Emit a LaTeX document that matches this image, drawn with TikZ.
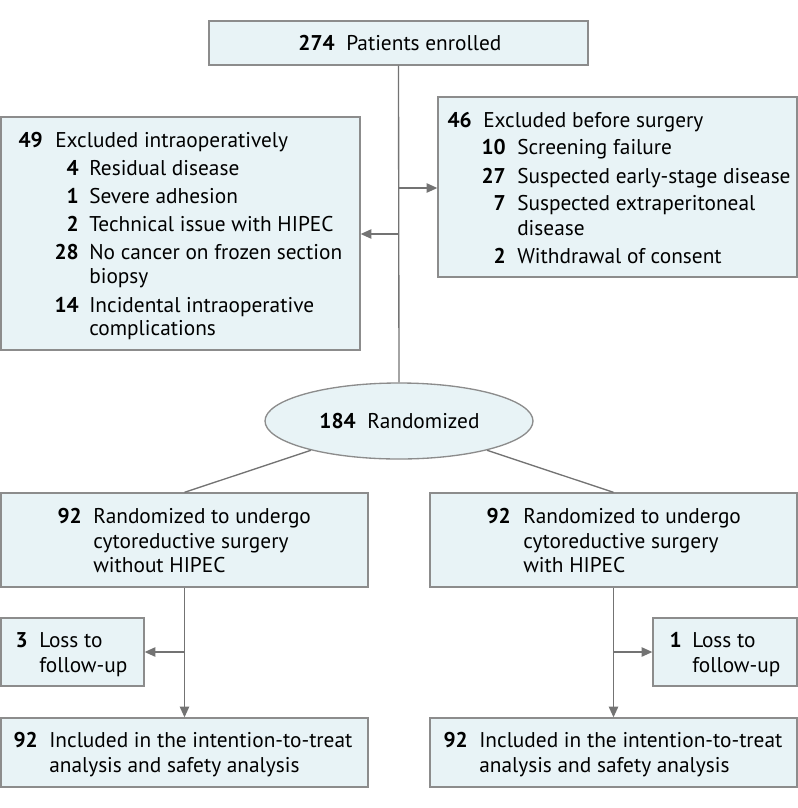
\documentclass[tikz,border=0pt]{standalone}
\usepackage{fontspec}
\setmainfont{PT Sans}
\usetikzlibrary{arrows.meta,shapes.geometric,fit}
\definecolor{boxfill}{RGB}{232,243,246}
\definecolor{boxline}{RGB}{140,140,140}
\definecolor{arrowgray}{RGB}{115,115,115}
\newcounter{lnum}
\newcommand\rowtext[5]{\stepcounter{lnum}\node[numtxt] (n\thelnum) at (#1,#3) {#4};\node[bodytxt] (t\thelnum) at (#2,#3) {#5};}
\newcommand\contline[3]{\stepcounter{lnum}\node[bodytxt] (c\thelnum) at (#1,#2) {#3};}
\begin{document}
\begin{tikzpicture}[x=0.75pt,y=-0.75pt,
  box/.style={draw=boxline,fill=boxfill,line width=1pt,inner sep=0pt},
  numtxt/.style={anchor=base east,inner sep=0pt,font=\fontsize{16}{19}\selectfont\bfseries},
  bodytxt/.style={anchor=base west,inner sep=0pt,font=\fontsize{16}{19}\selectfont},
  conn/.style={draw=arrowgray,line width=1pt},
  arrowconn/.style={conn,-{Triangle[length=8pt,width=7pt]}}]
\useasboundingbox (0,0) rectangle (798,808);

% boxes
\node[box,fit={(209,21)(588,65)}] (enrol) {};
\node[box,fit={(1,117)(360,350)}] (exL) {};
\node[box,fit={(438,97)(797,277)}] (exR) {};
\node[box,ellipse,minimum width=201pt,minimum height=57pt] (rand) at (399,421) {};
\node[box,fit={(1,493)(368,587)}] (armL) {};
\node[box,fit={(430,493)(797,587)}] (armR) {};
\node[box,fit={(1,618)(144,686)}] (lossL) {};
\node[box,fit={(653,618)(797,686)}] (lossR) {};
\node[box,fit={(1,718)(368,787)}] (finL) {};
\node[box,fit={(430,718)(797,787)}] (finR) {};

% connectors
\draw[conn] (enrol.south) -- (rand.north);
\coordinate (bR) at (399,188);
\coordinate (bL) at (399,234);
\draw[arrowconn] (bR) -- (bR -| exR.west);
\draw[arrowconn] (bL) -- (bL -| exL.east);
\draw[conn] (rand) -- (armL.north);
\draw[conn] (rand) -- (armR.north);
\draw[arrowconn] (armL.south) -- (finL.north);
\draw[arrowconn] (armR.south) -- (finR.north);
\coordinate (lL) at (armL.south |- lossL.east);
\coordinate (lR) at (armR.south |- lossR.west);
\draw[arrowconn] (lL) -- (lossL.east);
\draw[arrowconn] (lR) -- (lossR.west);

% texts
\rowtext{335}{346}{50}{274}{Patients enrolled}

\rowtext{43}{55}{147}{49}{Excluded intraoperatively}
\rowtext{79}{89}{175}{4}{Residual disease}
\rowtext{79}{89}{203}{1}{Severe adhesion}
\rowtext{79}{89}{231}{2}{Technical issue with HIPEC}
\rowtext{79}{89}{259}{28}{No cancer on frozen section}
\contline{89}{283}{biopsy}
\rowtext{79}{89}{312}{14}{Incidental intraoperative}
\contline{89}{335}{complications}

\rowtext{472}{483}{127}{46}{Excluded before surgery}
\rowtext{506}{517}{154}{10}{Screening failure}
\rowtext{506}{517}{183}{27}{Suspected early-stage disease}
\rowtext{506}{517}{210}{7}{Suspected extraperitoneal}
\contline{517}{235}{disease}
\rowtext{506}{517}{263}{2}{Withdrawal of consent}

\rowtext{356}{367}{428}{184}{Randomized}

\rowtext{82}{93}{523}{92}{Randomized to undergo}
\contline{93}{548}{cytoreductive surgery}
\contline{93}{572}{without HIPEC}

\rowtext{511}{523}{523}{92}{Randomized to undergo}
\contline{523}{548}{cytoreductive surgery}
\contline{523}{572}{with HIPEC}

\rowtext{28}{39}{647}{3}{Loss to}
\contline{39}{672}{follow-up}
\rowtext{682}{692}{647}{1}{Loss to}
\contline{692}{672}{follow-up}

\rowtext{38}{49}{747}{92}{Included in the intention-to-treat}
\contline{49}{772}{analysis and safety analysis}
\rowtext{468}{479}{747}{92}{Included in the intention-to-treat}
\contline{479}{772}{analysis and safety analysis}
\end{tikzpicture}
\end{document}
